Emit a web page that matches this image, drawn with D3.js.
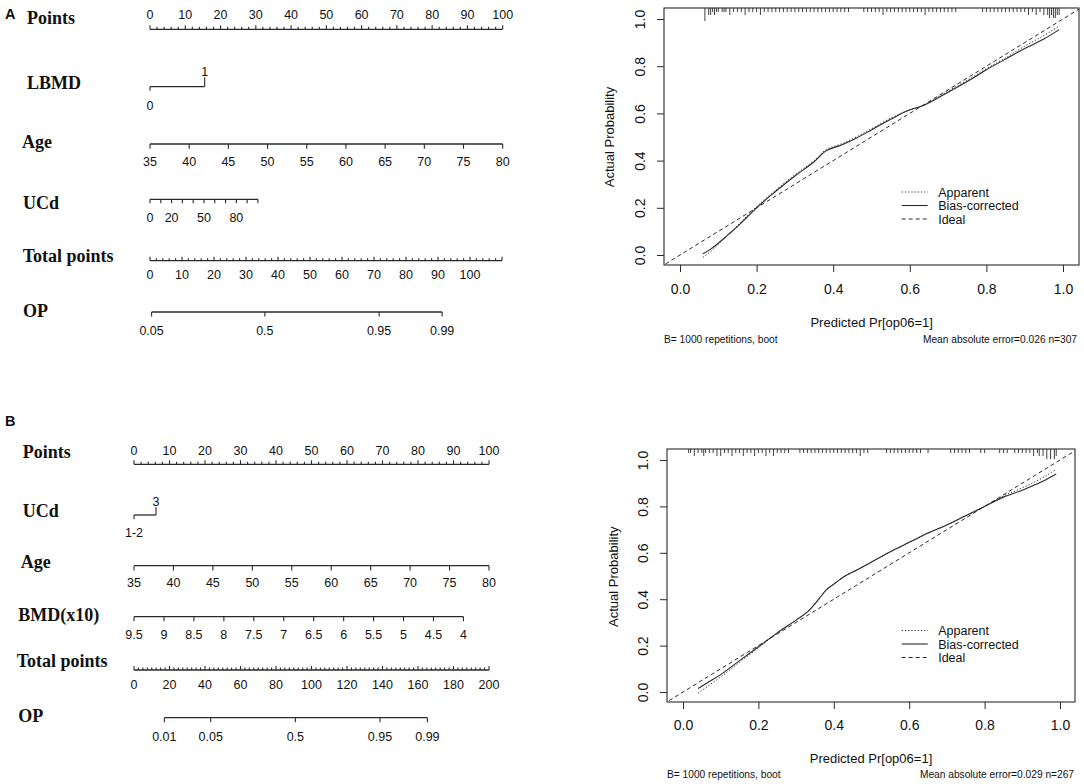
<!DOCTYPE html>
<html>
<head>
<meta charset="utf-8">
<script src="https://cdn.jsdelivr.net/npm/d3@7"></script>
<style>
  body { margin: 0; background: #fff; }
  svg text { font-family: "Liberation Sans", Arial, sans-serif; fill: #111; }
  .varname { font-family: "Liberation Serif", "Times New Roman", serif; font-weight: bold; font-size: 18px; }
</style>
</head>
<body>
<script>
/* ---------- nomogram A ---------- */
const pointsLabels = [0, 10, 20, 30, 40, 50, 60, 70, 80, 90, 100];
const lbmdLevels = ["0", "1"];
const lbmdPoints = [0, 15.5];
const ageLabels = [35, 40, 45, 50, 55, 60, 65, 70, 75, 80];
const ucdATicks = [0, 10, 20, 30, 40, 50, 60, 70, 80, 90, 100];
const ucdALabels = [0, 20, 50, 80];
const ucdAPoints = [0, 30.6]; // points at UCd = 0 and 100
const totalALabels = [0, 10, 20, 30, 40, 50, 60, 70, 80, 90, 100];
const totalAMax = 110;
const opALabels = ["0.05", "0.5", "0.95", "0.99"];
const opATotals = [0.5, 35.9, 71.6, 91.3];

/* ---------- nomogram B ---------- */
const ucdBLevels = ["1-2", "3"];
const ucdBPoints = [0, 6.2];
const bmdLabels = ["9.5", "9", "8.5", "8", "7.5", "7", "6.5", "6", "5.5", "5", "4.5", "4"];
const bmdPoints = [0, 92.8]; // points at BMD = 9.5 and 4
const totalBLabels = [0, 20, 40, 60, 80, 100, 120, 140, 160, 180, 200];
const opBLabels = ["0.01", "0.05", "0.5", "0.95", "0.99"];
const opBTotals = [17.1, 43.2, 90.9, 138.6, 165.3];

/* ---------- calibration A ---------- */
const calAPred = [0.06, 0.08, 0.10, 0.125, 0.15, 0.175, 0.2, 0.25, 0.3, 0.35, 0.38, 0.42, 0.46, 0.5, 0.55, 0.6, 0.63, 0.7, 0.76, 0.8, 0.85, 0.9, 0.95, 0.99];
const calABias = [0.005, 0.025, 0.05, 0.085, 0.12, 0.16, 0.2, 0.27, 0.335, 0.395, 0.44, 0.465, 0.495, 0.53, 0.575, 0.615, 0.63, 0.69, 0.745, 0.785, 0.83, 0.875, 0.915, 0.955];
const calAApparent = [-0.01, 0.015, 0.045, 0.085, 0.125, 0.165, 0.205, 0.275, 0.34, 0.4, 0.445, 0.47, 0.5, 0.535, 0.58, 0.615, 0.63, 0.695, 0.75, 0.79, 0.835, 0.885, 0.93, 0.97];
// rug: [predicted value, frequency]
const rugA = [
  [0.065, 4], [0.075, 2], [0.08, 2], [0.085, 1], [0.09, 2], [0.095, 1], [0.10, 1], [0.11, 1], [0.115, 1], [0.12, 1],
  [0.13, 2], [0.14, 1], [0.15, 1], [0.16, 1], [0.17, 2], [0.18, 1], [0.19, 1], [0.20, 1], [0.21, 2], [0.22, 1],
  [0.23, 1], [0.24, 1], [0.25, 1], [0.26, 1], [0.27, 1], [0.28, 1], [0.29, 1], [0.30, 1], [0.31, 1], [0.32, 1],
  [0.33, 1], [0.34, 1], [0.35, 1], [0.36, 1], [0.37, 1], [0.38, 1], [0.39, 1], [0.40, 1], [0.41, 1], [0.42, 1],
  [0.43, 1], [0.44, 1], [0.48, 1], [0.49, 1], [0.50, 1], [0.51, 1], [0.52, 1], [0.53, 2], [0.54, 1], [0.55, 1],
  [0.56, 1], [0.57, 1], [0.58, 1], [0.59, 1], [0.60, 1], [0.61, 1], [0.62, 1], [0.63, 1], [0.64, 2], [0.65, 1],
  [0.66, 1], [0.67, 1], [0.68, 1], [0.69, 1], [0.70, 1], [0.71, 1], [0.72, 1], [0.79, 1], [0.80, 1], [0.81, 1],
  [0.82, 1], [0.83, 1], [0.84, 1], [0.85, 1], [0.86, 1], [0.87, 1], [0.88, 1], [0.89, 1], [0.90, 1], [0.91, 2],
  [0.92, 1], [0.93, 2], [0.94, 1], [0.95, 2], [0.96, 2], [0.965, 3], [0.97, 2], [0.975, 3], [0.98, 3], [0.985, 2],
  [0.99, 2],
];

/* ---------- calibration B ---------- */
const calBPred = [0.04, 0.07, 0.1, 0.15, 0.2, 0.25, 0.3, 0.33, 0.36, 0.38, 0.4, 0.43, 0.46, 0.5, 0.55, 0.6, 0.65, 0.7, 0.75, 0.8, 0.85, 0.9, 0.95, 0.99];
const calBBias = [0.015, 0.045, 0.075, 0.135, 0.195, 0.255, 0.31, 0.345, 0.4, 0.44, 0.465, 0.5, 0.525, 0.56, 0.605, 0.645, 0.685, 0.72, 0.76, 0.8, 0.84, 0.87, 0.905, 0.94];
const calBApparent = [-0.005, 0.03, 0.065, 0.128, 0.19, 0.255, 0.31, 0.345, 0.4, 0.44, 0.465, 0.5, 0.525, 0.56, 0.605, 0.645, 0.685, 0.72, 0.76, 0.8, 0.845, 0.88, 0.92, 0.96];
const rugB = [
  [0.015, 1], [0.02, 1], [0.03, 2], [0.04, 1], [0.05, 1], [0.055, 2], [0.06, 1], [0.07, 1], [0.08, 1], [0.09, 2],
  [0.10, 2], [0.11, 1], [0.12, 1], [0.13, 2], [0.14, 1], [0.15, 1], [0.16, 2], [0.17, 1], [0.18, 1], [0.19, 2],
  [0.20, 1], [0.21, 1], [0.22, 2], [0.23, 1], [0.24, 2], [0.25, 1], [0.26, 1], [0.27, 1], [0.28, 1], [0.31, 1],
  [0.32, 1], [0.33, 1], [0.34, 1], [0.35, 1], [0.36, 1], [0.37, 1], [0.38, 1], [0.39, 1], [0.40, 1], [0.41, 1],
  [0.42, 1], [0.43, 1], [0.44, 1], [0.45, 1], [0.46, 1], [0.47, 2], [0.48, 1], [0.49, 1], [0.54, 1], [0.55, 1],
  [0.56, 1], [0.57, 1], [0.58, 1], [0.59, 1], [0.60, 1], [0.61, 1], [0.62, 1], [0.63, 1], [0.65, 1], [0.71, 1],
  [0.72, 1], [0.73, 1], [0.74, 1], [0.75, 1], [0.76, 1], [0.79, 1], [0.80, 1], [0.84, 1], [0.85, 1], [0.86, 1],
  [0.88, 1], [0.89, 1], [0.90, 1], [0.91, 1], [0.92, 1], [0.93, 2], [0.94, 1], [0.945, 2], [0.955, 2], [0.965, 3],
  [0.975, 3], [0.985, 3], [0.99, 2],
];

const legendItems = [
  { label: "Apparent", dash: "1.2,2" },
  { label: "Bias-corrected", dash: null },
  { label: "Ideal", dash: "4,3" },
];

const ink = "#2a2a2a";

const svg = d3.select("body").append("svg")
  .attr("width", 1084)
  .attr("height", 784);

/* ---------- helpers ---------- */
function hline(g, x0, x1, y) {
  g.append("line")
    .attr("x1", x0).attr("x2", x1).attr("y1", y).attr("y2", y)
    .attr("stroke", ink).attr("stroke-width", 1.3);
}
function ticks(g, xs, y, len) {
  g.selectAll(null).data(xs).join("line")
    .attr("x1", (d) => d).attr("x2", (d) => d)
    .attr("y1", y).attr("y2", y + len)
    .attr("stroke", ink).attr("stroke-width", 1.1);
}
function labels(g, items, y) {
  g.selectAll(null).data(items).join("text")
    .attr("x", (d) => d.x).attr("y", y)
    .attr("text-anchor", "middle")
    .attr("font-size", 12.5)
    .text((d) => d.t);
}
function varName(g, t, x, y) {
  g.append("text").attr("class", "varname").attr("x", x).attr("y", y).text(t);
}
function panelLetter(t, x, y) {
  svg.append("text").attr("x", x).attr("y", y)
    .attr("font-size", 14.5).attr("font-weight", "bold").text(t);
}

/* ---------- nomogram A ---------- */
function drawNomogramA() {
  const g = svg.append("g");
  const px = d3.scaleLinear().domain([0, 100]).range([150, 502.7]);
  const minor = px.ticks(50);

  panelLetter("A", 5, 19);

  // Points
  varName(g, "Points", 27, 24);
  hline(g, px(0), px(100), 29.3);
  ticks(g, minor.filter((d) => d % 10 !== 0).map(px), 29.3, -2.5);
  ticks(g, pointsLabels.map(px), 29.3, -4);
  labels(g, pointsLabels.map((d) => ({ x: px(d), t: d })), 19);

  // LBMD
  varName(g, "LBMD", 27, 89);
  const lx = lbmdPoints.map(px);
  hline(g, lx[0], lx[1], 86.7);
  ticks(g, [lx[0]], 86.7, 4);
  ticks(g, [lx[1]], 86.7, -9.5);
  labels(g, [{ x: lx[0], t: lbmdLevels[0] }], 109.5);
  labels(g, [{ x: lx[1], t: lbmdLevels[1] }], 75.5);

  // Age
  const age = d3.scaleLinear().domain([35, 80]).range([0, 100]);
  varName(g, "Age", 22, 147.5);
  hline(g, px(0), px(100), 144);
  ticks(g, ageLabels.map((d) => px(age(d))), 144, 4.7);
  labels(g, ageLabels.map((d) => ({ x: px(age(d)), t: d })), 165.5);

  // UCd
  const ucd = d3.scaleLinear().domain([0, 100]).range(ucdAPoints);
  varName(g, "UCd", 23, 209);
  hline(g, px(ucd(0)), px(ucd(100)), 199.3);
  ticks(g, ucdATicks.map((d) => px(ucd(d))), 199.3, 4);
  labels(g, ucdALabels.map((d) => ({ x: px(ucd(d)), t: d })), 221.5);

  // Total points
  const tot = d3.scaleLinear().domain([0, 100]).range([150, 470]);
  const totMinor = d3.scaleLinear().domain([0, totalAMax]).ticks(55);
  varName(g, "Total points", 22.7, 261.7);
  hline(g, tot(0), tot(totalAMax), 260.7);
  ticks(g, totMinor.filter((d) => d % 10 !== 0).map(tot), 260.7, -2.5);
  ticks(g, totMinor.filter((d) => d % 10 === 0).map(tot), 260.7, -4);
  labels(g, totalALabels.map((d) => ({ x: tot(d), t: d })), 278.5);

  // OP
  varName(g, "OP", 23, 317.3);
  hline(g, tot(opATotals[0]), tot(opATotals[opATotals.length - 1]), 312);
  ticks(g, opATotals.map(tot), 312, 4.5);
  labels(g, opATotals.map((d, i) => ({ x: tot(d), t: opALabels[i] })), 335);
}

/* ---------- nomogram B ---------- */
function drawNomogramB() {
  const g = svg.append("g");
  const px = d3.scaleLinear().domain([0, 100]).range([134, 489]);
  const minor = px.ticks(50);

  panelLetter("B", 5, 426);

  // Points
  varName(g, "Points", 22.7, 458.3);
  hline(g, px(0), px(100), 464.3);
  ticks(g, minor.filter((d) => d % 10 !== 0).map(px), 464.3, -2.5);
  ticks(g, pointsLabels.map(px), 464.3, -4);
  labels(g, pointsLabels.map((d) => ({ x: px(d), t: d })), 455);

  // UCd
  varName(g, "UCd", 22.7, 517.3);
  const ux = ucdBPoints.map(px);
  hline(g, ux[0], ux[1], 515);
  ticks(g, [ux[0]], 515, 4);
  ticks(g, [ux[1]], 515, -8);
  labels(g, [{ x: ux[0], t: ucdBLevels[0] }], 537);
  labels(g, [{ x: ux[1], t: ucdBLevels[1] }], 505.5);

  // Age
  const age = d3.scaleLinear().domain([35, 80]).range([0, 100]);
  varName(g, "Age", 20.7, 568);
  hline(g, px(0), px(100), 565.7);
  ticks(g, ageLabels.map((d) => px(age(d))), 565.7, 4.7);
  labels(g, ageLabels.map((d) => ({ x: px(age(d)), t: d })), 587);

  // BMD(x10)
  const bmd = d3.scaleLinear().domain([9.5, 4]).range(bmdPoints);
  varName(g, "BMD(x10)", 18.3, 620.7);
  hline(g, px(bmd(9.5)), px(bmd(4)), 616.7);
  ticks(g, bmdLabels.map((d) => px(bmd(+d))), 616.7, 4.5);
  labels(g, bmdLabels.map((d) => ({ x: px(bmd(+d)), t: d })), 638.5);

  // Total points
  const tot = d3.scaleLinear().domain([0, 200]).range([134, 489]);
  const totMinor = d3.range(0, 200.01, 2.5);
  varName(g, "Total points", 16.7, 666.7);
  hline(g, tot(0), tot(200), 670);
  ticks(g, totMinor.filter((d) => d % 20 !== 0).map(tot), 670, -2.5);
  ticks(g, totalBLabels.map(tot), 670, -4);
  labels(g, totalBLabels.map((d) => ({ x: tot(d), t: d })), 688.5);

  // OP
  varName(g, "OP", 18.3, 721.7);
  hline(g, tot(opBTotals[0]), tot(opBTotals[opBTotals.length - 1]), 717.7);
  ticks(g, opBTotals.map(tot), 717.7, 4.5);
  labels(g, opBTotals.map((d, i) => ({ x: tot(d), t: opBLabels[i] })), 740.5);
}

/* ---------- calibration plot ---------- */
function drawCalibration(c) {
  const g = svg.append("g");
  const x = d3.scaleLinear().domain([0, 1]).range([c.x0, c.x1]);
  const y = d3.scaleLinear().domain([0, 1]).range([c.y0, c.y1]);
  const [bx0, by0, bx1, by1] = c.box;
  const clipId = "clip" + c.id;

  g.append("clipPath").attr("id", clipId)
    .append("rect").attr("x", bx0).attr("y", by0)
    .attr("width", bx1 - bx0).attr("height", by1 - by0);

  const plot = g.append("g").attr("clip-path", `url(#${clipId})`);

  // ideal line
  plot.append("line")
    .attr("x1", x(-0.1)).attr("y1", y(-0.1))
    .attr("x2", x(1.1)).attr("y2", y(1.1))
    .attr("stroke", ink).attr("stroke-width", 1)
    .attr("stroke-dasharray", "4,3");

  const line = d3.line()
    .x((d) => x(d[0]))
    .y((d) => y(d[1]))
    .curve(d3.curveMonotoneX);

  plot.append("path")
    .datum(c.pred.map((p, i) => [p, c.apparent[i]]))
    .attr("d", line)
    .attr("fill", "none").attr("stroke", ink).attr("stroke-width", 1)
    .attr("stroke-dasharray", "1.2,2");

  plot.append("path")
    .datum(c.pred.map((p, i) => [p, c.bias[i]]))
    .attr("d", line)
    .attr("fill", "none").attr("stroke", ink).attr("stroke-width", 1.1);

  // rug along top, tick length grows with frequency
  const rugLen = d3.scaleLinear().domain([1, 4]).range([4, 13]);
  plot.selectAll(null)
    .data(c.rug)
    .join("line")
    .attr("x1", (d) => x(d[0])).attr("x2", (d) => x(d[0]))
    .attr("y1", by0).attr("y2", (d) => by0 + rugLen(d[1]))
    .attr("stroke", ink).attr("stroke-width", 0.9);

  // box
  g.append("rect")
    .attr("x", bx0).attr("y", by0)
    .attr("width", bx1 - bx0).attr("height", by1 - by0)
    .attr("fill", "none").attr("stroke", ink).attr("stroke-width", 1.1);

  const tickVals = [0, 0.2, 0.4, 0.6, 0.8, 1];

  // x axis
  const xAxis = g.append("g")
    .attr("transform", `translate(0,${by1})`)
    .call(d3.axisBottom(x).tickValues(tickVals).tickFormat(d3.format(".1f")).tickSize(7).tickSizeOuter(0));
  xAxis.select(".domain").remove();
  xAxis.selectAll(".tick line").attr("stroke", ink);
  xAxis.selectAll(".tick text")
    .attr("y", c.xLabelOff).attr("dy", 0)
    .attr("font-size", 14)
    .attr("font-family", "Liberation Sans, Arial, sans-serif")
    .attr("fill", "#111");

  // y axis
  const yAxis = g.append("g")
    .attr("transform", `translate(${bx0},0)`)
    .call(d3.axisLeft(y).tickValues(tickVals).tickFormat(d3.format(".1f")).tickSize(7).tickSizeOuter(0));
  yAxis.select(".domain").remove();
  yAxis.selectAll(".tick line").attr("stroke", ink);
  yAxis.selectAll(".tick text")
    .attr("transform", "rotate(-90)")
    .attr("x", 0).attr("y", -c.yLabelOff).attr("dy", 0)
    .attr("text-anchor", "middle")
    .attr("font-size", 14)
    .attr("font-family", "Liberation Sans, Arial, sans-serif")
    .attr("fill", "#111");

  // axis titles
  g.append("text")
    .attr("x", c.xTitle[0]).attr("y", c.xTitle[1])
    .attr("text-anchor", "middle").attr("font-size", 13)
    .text("Predicted Pr[op06=1]");
  g.append("text")
    .attr("transform", `translate(${c.yTitle[0]},${c.yTitle[1]}) rotate(-90)`)
    .attr("text-anchor", "middle").attr("dy", "0.35em").attr("font-size", 13)
    .text("Actual Probability");

  // footnotes
  g.append("text").attr("x", bx0).attr("y", c.footY)
    .attr("font-size", 10.2).text("B= 1000 repetitions, boot");
  g.append("text").attr("x", c.footRight).attr("y", c.footY)
    .attr("text-anchor", "end").attr("font-size", 10.2).text(c.footText);

  // legend
  const leg = g.append("g");
  legendItems.forEach((d, i) => {
    const ly = c.legY[i];
    leg.append("line")
      .attr("x1", c.legX).attr("x2", c.legX + 26)
      .attr("y1", ly).attr("y2", ly)
      .attr("stroke", ink).attr("stroke-width", 1.1)
      .attr("stroke-dasharray", d.dash);
    leg.append("text")
      .attr("x", c.legX + 36.5).attr("y", ly).attr("dy", "0.36em")
      .attr("font-size", 12.5).text(d.label);
  });
}

drawNomogramA();
drawNomogramB();

drawCalibration({
  id: "A",
  x0: 680, x1: 1063, y0: 255, y1: 19,
  box: [664, 8, 1079, 265],
  pred: calAPred, bias: calABias, apparent: calAApparent,
  rug: rugA,
  xLabelOff: 29, yLabelOff: 19,
  xTitle: [871.7, 326.5], yTitle: [609, 137],
  footY: 342.5, footRight: 1077,
  footText: "Mean absolute error=0.026 n=307",
  legX: 901.7, legY: [192, 205.5, 219],
});

drawCalibration({
  id: "B",
  x0: 683, x1: 1060, y0: 692, y1: 460,
  box: [667, 449, 1075, 702],
  pred: calBPred, bias: calBBias, apparent: calBApparent,
  rug: rugB,
  xLabelOff: 28, yLabelOff: 18.7,
  xTitle: [871, 762.5], yTitle: [613, 576.7],
  footY: 777.5, footRight: 1074,
  footText: "Mean absolute error=0.029 n=267",
  legX: 901.7, legY: [630.5, 644, 657.5],
});
</script>
</body>
</html>
